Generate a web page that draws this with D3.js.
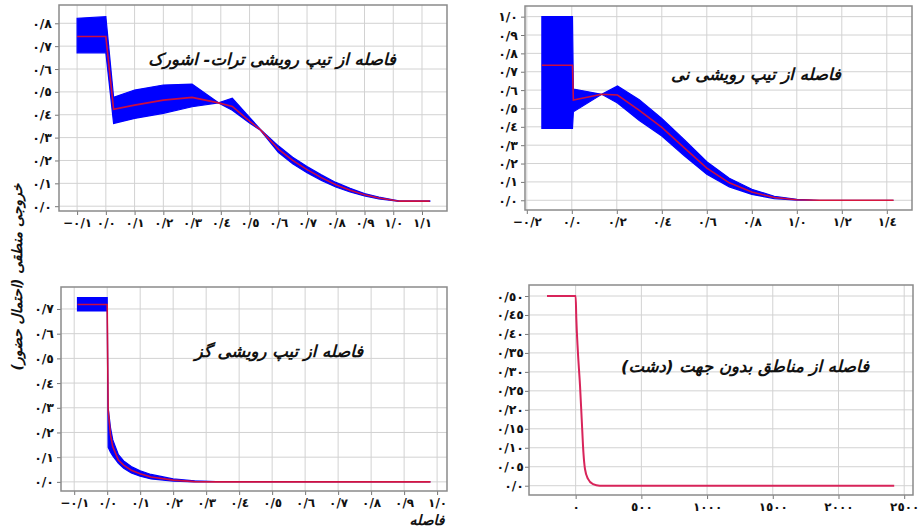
<!DOCTYPE html>
<html>
<head>
<meta charset="utf-8">
<script src="https://cdn.jsdelivr.net/npm/d3@7/dist/d3.min.js"></script>
<style>
  body { margin: 0; background: #fff; }
  svg { display: block; }
  text { font-family: "DejaVu Sans", sans-serif; font-weight: bold; fill: #111; }
</style>
</head>
<body>
<div id="chart"></div>
<script>
// panel 1: تیپ رویشی ترات- اشورک
const p1X     = [-0.1, 0.0, 0.027, 0.1, 0.2, 0.3, 0.392, 0.44, 0.5, 0.538, 0.6, 0.65, 0.7, 0.75, 0.8, 0.85, 0.9, 0.95, 1.0, 1.02, 1.127];
const p1Mean  = [0.742, 0.742, 0.424, 0.442, 0.464, 0.476, 0.452, 0.436, 0.372, 0.334, 0.25, 0.2, 0.16, 0.125, 0.094, 0.07, 0.05, 0.036, 0.026, 0.022, 0.022];
const p1Upper = [0.822, 0.829, 0.476, 0.508, 0.530, 0.534, 0.452, 0.472, 0.388, 0.336, 0.264, 0.214, 0.174, 0.137, 0.104, 0.078, 0.055, 0.04, 0.028, 0.023, 0.023];
const p1Lower = [0.671, 0.671, 0.362, 0.384, 0.406, 0.435, 0.452, 0.420, 0.364, 0.332, 0.236, 0.186, 0.146, 0.113, 0.084, 0.062, 0.045, 0.032, 0.024, 0.021, 0.021];

// panel 2: تیپ رویشی نی
const p2X     = [-0.133, 0.003, 0.007, 0.133, 0.203, 0.3, 0.4, 0.5, 0.6, 0.7, 0.8, 0.9, 1.0, 1.1, 1.43];
const p2Mean  = [0.735, 0.735, 0.546, 0.577, 0.573, 0.49, 0.397, 0.285, 0.175, 0.095, 0.045, 0.015, 0.003, 0.0, 0.0];
const p2Upper = [1.0, 1.0, 0.606, 0.577, 0.622, 0.548, 0.445, 0.33, 0.21, 0.12, 0.06, 0.022, 0.005, 0.0, 0.0];
const p2Lower = [0.392, 0.392, 0.482, 0.577, 0.53, 0.434, 0.35, 0.242, 0.142, 0.073, 0.032, 0.009, 0.001, 0.0, 0.0];

// panel 3: تیپ رویشی گز
const p3X     = [-0.09, 0.0, 0.003, 0.01, 0.017, 0.034, 0.05, 0.073, 0.1, 0.133, 0.2, 0.265, 0.33, 0.98];
const p3Mean  = [0.718, 0.718, 0.29, 0.19, 0.142, 0.088, 0.068, 0.047, 0.033, 0.02, 0.007, 0.001, 0.0, 0.0];
const p3Upper = [0.746, 0.746, 0.30, 0.22, 0.17, 0.11, 0.085, 0.062, 0.045, 0.03, 0.012, 0.004, 0.001, 0.0];
const p3Lower = [0.692, 0.692, 0.14, 0.12, 0.105, 0.075, 0.055, 0.036, 0.023, 0.012, 0.003, 0.0, 0.0, 0.0];

// panel 4: مناطق بدون جهت (دشت)
const p4X    = [-218, 0, 5, 17, 33, 46, 59, 71, 94, 132, 183, 2424];
const p4Mean = [0.5, 0.5, 0.441, 0.353, 0.265, 0.176, 0.088, 0.044, 0.018, 0.004, 0.0, 0.0];

// ticks
const p1XTicks = [-0.1, 0.0, 0.1, 0.2, 0.3, 0.4, 0.5, 0.6, 0.7, 0.8, 0.9, 1.0, 1.1];
const p1YTicks = [0.0, 0.1, 0.2, 0.3, 0.4, 0.5, 0.6, 0.7, 0.8];
const p2XTicks = [-0.2, 0.0, 0.2, 0.4, 0.6, 0.8, 1.0, 1.2, 1.4];
const p2YTicks = [0.0, 0.1, 0.2, 0.3, 0.4, 0.5, 0.6, 0.7, 0.8, 0.9, 1.0];
const p3XTicks = [-0.1, 0.0, 0.1, 0.2, 0.3, 0.4, 0.5, 0.6, 0.7, 0.8, 0.9, 1.0];
const p3YTicks = [0.0, 0.1, 0.2, 0.3, 0.4, 0.5, 0.6, 0.7];
const p4XTicks = [0, 500, 1000, 1500, 2000, 2500];
const p4YTicks = [0.0, 0.05, 0.10, 0.15, 0.20, 0.25, 0.30, 0.35, 0.40, 0.45, 0.50];

const titles = [
  "فاصله از تیپ رویشی ترات- اشورک",
  "فاصله از تیپ رویشی نی",
  "فاصله از تیپ رویشی گز",
  "فاصله از مناطق بدون جهت (دشت)"
];

const faDigits = "٠١٢٣٤٥٦٧٨٩";
function fa(v, dec) {
  let s = Math.abs(v).toFixed(dec);
  if (dec > 1 && Math.abs(v) < 1e-9) s = "0.0";
  s = s.replace(/\d/g, d => faDigits[d]).replace(".", "/");
  return (v < -1e-9 ? "−" : "") + s;
}

const svgWidth = 919;
const svgHeight = 531;

const svg = d3.select("#chart")
  .append("svg")
  .attr("width", svgWidth)
  .attr("height", svgHeight);

// each panel: frame box in pixels + domains
const panels = [
  { x: p1X, mean: p1Mean, up: p1Upper, lo: p1Lower, xt: p1XTicks, yt: p1YTicks, xd: 1, yd: 1,
    box: [59, 5, 447, 211], xDom: [-0.163, 1.187], yDom: [-0.021, 0.88], title: titles[0], tpos: [272, 60] },
  { x: p2X, mean: p2Mean, up: p2Upper, lo: p2Lower, xt: p2XTicks, yt: p2YTicks, xd: 1, yd: 1,
    box: [525, 6, 912, 210], xDom: [-0.208, 1.512], yDom: [-0.053, 1.058], title: titles[1], tpos: [756, 75] },
  { x: p3X, mean: p3Mean, up: p3Upper, lo: p3Lower, xt: p3XTicks, yt: p3YTicks, xd: 1, yd: 1,
    box: [61, 287, 447, 491], xDom: [-0.14, 1.03], yDom: [-0.037, 0.789], title: titles[2], tpos: [279, 352] },
  { x: p4X, mean: p4Mean, up: null, lo: null, xt: p4XTicks, yt: p4YTicks, xd: 0, yd: 2,
    box: [529, 285, 913, 495], xDom: [-355, 2567], yDom: [-0.0245, 0.529], title: titles[3], tpos: [745, 367] }
];

panels.forEach(function (p) {
  const [x0, y0, x1, y1] = p.box;
  const xScale = d3.scaleLinear().domain(p.xDom).range([x0, x1]);
  const yScale = d3.scaleLinear().domain(p.yDom).range([y1, y0]);
  const g = svg.append("g");

  // grid
  g.selectAll(".vg").data(p.xt).enter().append("line")
    .attr("x1", d => xScale(d)).attr("x2", d => xScale(d))
    .attr("y1", y0).attr("y2", y1)
    .attr("stroke", "#d2d2d2").attr("stroke-width", 1);
  g.selectAll(".hg").data(p.yt).enter().append("line")
    .attr("x1", x0).attr("x2", x1)
    .attr("y1", d => yScale(d)).attr("y2", d => yScale(d))
    .attr("stroke", "#d2d2d2").attr("stroke-width", 1);

  // axes
  const bottomAxis = d3.axisBottom(xScale).tickValues(p.xt).tickSize(4).tickPadding(3)
    .tickFormat(d => fa(d, p.xd));
  const leftAxis = d3.axisLeft(yScale).tickValues(p.yt).tickSize(4).tickPadding(p.yd === 2 ? 1 : 3)
    .tickFormat(d => fa(d, p.yd));

  const ax = g.append("g").attr("transform", `translate(0, ${y1})`).call(bottomAxis);
  const ay = g.append("g").attr("transform", `translate(${x0}, 0)`).call(leftAxis);
  [ax, ay].forEach(a => {
    a.select(".domain").remove();
    a.selectAll("line").attr("stroke", "#777");
    a.selectAll("text").style("font-size", a === ax ? "12px" : "12.5px")
      .style("font-family", "\"DejaVu Sans\", sans-serif")
      .style("font-weight", "bold").attr("fill", "#111");
  });

  // data
  const rows = p.x.map((v, i) => ({ x: v, m: p.mean[i], u: p.up ? p.up[i] : null, l: p.lo ? p.lo[i] : null }));

  if (p.up) {
    const band = d3.area()
      .x(d => xScale(d.x))
      .y0(d => yScale(d.l))
      .y1(d => yScale(d.u));
    g.append("path").datum(rows)
      .attr("d", band)
      .attr("fill", "#0000ff")
      .attr("stroke", "#0000ff")
      .attr("stroke-width", 1.2);
    g.append("path").datum(rows)
      .attr("d", d3.line().x(d => xScale(d.x)).y(d => yScale(d.m)))
      .attr("fill", "none")
      .attr("stroke", "#ff1010")
      .attr("stroke-opacity", 0.8)
      .attr("stroke-width", 1.6);
  } else {
    g.append("path").datum(rows)
      .attr("d", d3.line().curve(d3.curveMonotoneX).x(d => xScale(d.x)).y(d => yScale(d.m)))
      .attr("fill", "none")
      .attr("stroke", "#d8245a")
      .attr("stroke-width", 2);
  }

  // frame
  g.append("rect")
    .attr("x", x0).attr("y", y0)
    .attr("width", x1 - x0).attr("height", y1 - y0)
    .attr("fill", "none")
    .attr("stroke", "#8a8a8a")
    .attr("stroke-width", 1.5);

  // panel title
  g.append("text")
    .attr("x", p.tpos[0]).attr("y", p.tpos[1])
    .attr("text-anchor", "middle")
    .attr("dominant-baseline", "middle")
    .attr("direction", "rtl")
    .style("font-size", "16.5px")
    .style("font-style", "italic")
    .text(p.title);
});

// axis titles
svg.append("text")
  .attr("transform", "translate(18, 277) rotate(-90)")
  .attr("text-anchor", "middle")
  .attr("dominant-baseline", "middle")
  .attr("direction", "rtl")
  .style("font-size", "14px")
  .style("font-style", "italic")
  .text("خروجی منطقی (احتمال حضور)");

svg.append("text")
  .attr("x", 427).attr("y", 521)
  .attr("text-anchor", "middle")
  .attr("dominant-baseline", "middle")
  .attr("direction", "rtl")
  .style("font-size", "14px")
  .style("font-style", "italic")
  .text("فاصله");
</script>
</body>
</html>
